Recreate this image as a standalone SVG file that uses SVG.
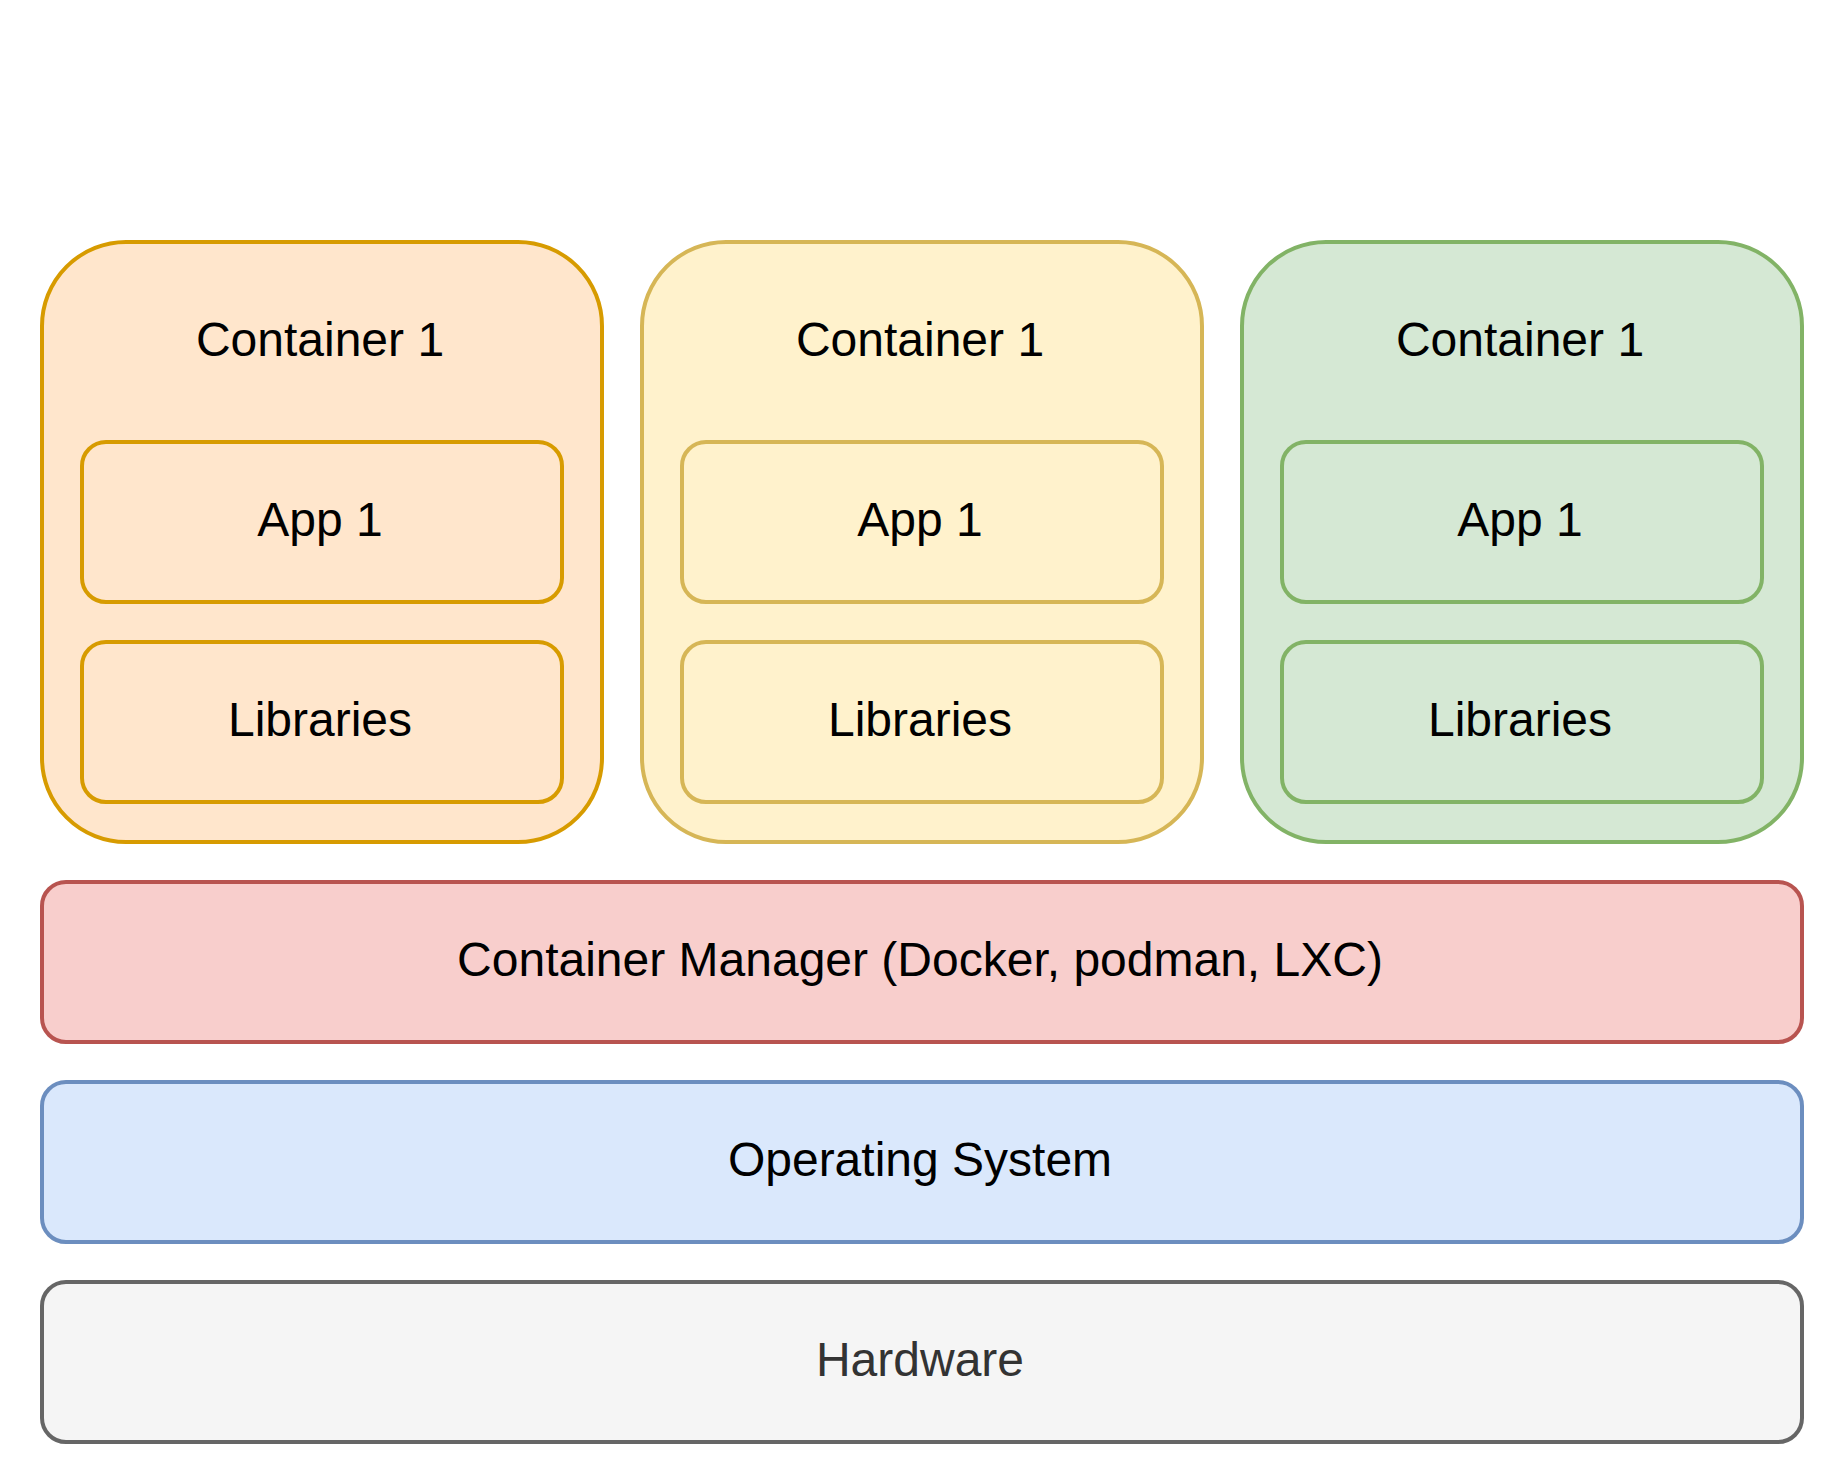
<svg xmlns="http://www.w3.org/2000/svg" width="1840" height="1480" viewBox="0 0 1840 1480">
<style>
rect{stroke-width:4}
text{font-family:"Liberation Sans",Arial,Helvetica,sans-serif;font-size:48px;text-anchor:middle;fill:#000000}
.or{fill:#ffe6cc;stroke:#d79b00}
.ye{fill:#fff2cc;stroke:#d6b656}
.gr{fill:#d5e8d4;stroke:#82b366}
.rd{fill:#f8cecc;stroke:#b85450}
.bl{fill:#dae8fc;stroke:#6c8ebf}
.gy{fill:#f5f5f5;stroke:#666666}
</style>
<rect x="0" y="0" width="1840" height="1480" fill="#ffffff" stroke="none"/>
<g id="container1">
<rect class="or" x="42" y="242" width="560" height="600" rx="84" ry="84"/>
<text x="320" y="356">Container 1</text>
</g>
<g id="app1a">
<rect class="or" x="82" y="442" width="480" height="160" rx="24" ry="24"/>
<text x="320" y="536">App 1</text>
</g>
<g id="libs1">
<rect class="or" x="82" y="642" width="480" height="160" rx="24" ry="24"/>
<text x="320" y="736">Libraries</text>
</g>
<g id="container2">
<rect class="ye" x="642" y="242" width="560" height="600" rx="84" ry="84"/>
<text x="920" y="356">Container 1</text>
</g>
<g id="app1b">
<rect class="ye" x="682" y="442" width="480" height="160" rx="24" ry="24"/>
<text x="920" y="536">App 1</text>
</g>
<g id="libs2">
<rect class="ye" x="682" y="642" width="480" height="160" rx="24" ry="24"/>
<text x="920" y="736">Libraries</text>
</g>
<g id="container3">
<rect class="gr" x="1242" y="242" width="560" height="600" rx="84" ry="84"/>
<text x="1520" y="356">Container 1</text>
</g>
<g id="app1c">
<rect class="gr" x="1282" y="442" width="480" height="160" rx="24" ry="24"/>
<text x="1520" y="536">App 1</text>
</g>
<g id="libs3">
<rect class="gr" x="1282" y="642" width="480" height="160" rx="24" ry="24"/>
<text x="1520" y="736">Libraries</text>
</g>
<g id="manager">
<rect class="rd" x="42" y="882" width="1760" height="160" rx="24" ry="24"/>
<text x="920" y="976">Container Manager (Docker, podman, LXC)</text>
</g>
<g id="os">
<rect class="bl" x="42" y="1082" width="1760" height="160" rx="24" ry="24"/>
<text x="920" y="1176">Operating System</text>
</g>
<g id="hardware">
<rect class="gy" x="42" y="1282" width="1760" height="160" rx="24" ry="24"/>
<text x="920" y="1376" style="fill:#333333">Hardware</text>
</g>
<g id="connectors"></g>
</svg>
